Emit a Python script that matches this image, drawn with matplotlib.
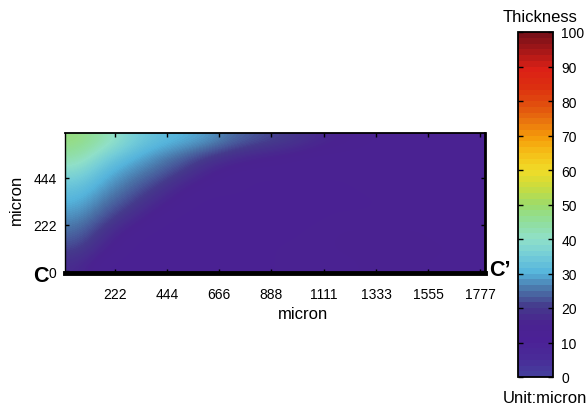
import numpy as np
import matplotlib
matplotlib.use('Agg')
import matplotlib.pyplot as plt
from matplotlib.colors import LinearSegmentedColormap

plt.rcParams['font.family'] = ['Liberation Sans', 'DejaVu Sans']

# thickness, top row first
thickness = np.array([
    [48, 43, 36, 32, 30, 28, 24, 22, 20, 17, 15, 14, 13, 13, 13, 13],
    [44, 36, 31, 27, 24, 20, 17, 15, 14, 13, 13, 13, 13, 13, 13, 13],
    [38, 31, 27, 24, 20, 15, 13, 13, 13, 13, 13, 13, 13, 13, 13, 13],
    [33, 28, 24, 20, 15, 13, 13, 12, 12, 12, 12, 13, 13, 13, 13, 13],
    [30, 25, 21, 16, 13, 12, 12, 12, 12, 12, 12, 12, 13, 13, 13, 13],
    [27, 22, 17, 13, 12, 12, 12, 12, 12, 12, 13, 13, 13, 13, 13, 13],
    [24, 18, 13, 12, 12, 12, 12, 12, 12, 13, 14, 14, 14, 14, 13, 13],
    [21, 15, 12, 12, 12, 12, 12, 12, 13, 13, 14, 14, 14, 14, 14, 13],
    [17, 12, 12, 12, 12, 12, 12, 12, 13, 13, 13, 14, 14, 14, 13, 13],
])

x_ticks = [222, 444, 666, 888, 1111, 1333, 1555, 1777]
y_ticks = [0, 222, 444]
bar_ticks = [0, 10, 20, 30, 40, 50, 60, 70, 80, 90, 100]

bar_colors = ['#453d9c', '#4a2a98', '#4b2196', '#4a2390', '#453a8c', '#4a74a8', '#55b4dc',
              '#74cdd8', '#90e0c8', '#90de9c', '#9cdb6a', '#c9dc3e', '#f0dc28', '#f5c018',
              '#f59a0a', '#e8700e', '#e04a0e', '#dc2e10', '#dc2016', '#a81818', '#7a1018']
cmap = LinearSegmentedColormap.from_list('thick', bar_colors, N=256)
cmap_steps = LinearSegmentedColormap.from_list('thick_steps', bar_colors, N=60)

fig = plt.figure(figsize=(5.87, 4.10), dpi=100)
W, H = 587.0, 410.0

ax = fig.add_axes([65 / W, 1 - 274 / H, 420 / W, 140 / H])
im = ax.imshow(thickness, cmap=cmap, vmin=0, vmax=100, aspect='auto',
               interpolation='bicubic', extent=[10, 1797, -8, 657])
ax.set_xticks(x_ticks)
ax.set_yticks(y_ticks)
ax.tick_params(direction='in', length=3, width=1, labelsize=10, top=True, right=True, pad=6)
ax.tick_params(axis='x', pad=10)
ax.spines['left'].set_linewidth(1)
ax.spines['top'].set_linewidth(1.3)
ax.spines['right'].set_linewidth(2)
ax.spines['bottom'].set_linewidth(3.5)

fig.text(303 / W, 1 - 315 / H, 'micron', fontsize=12, ha='center', va='center')
fig.text(16 / W, 1 - 200 / H, 'micron', fontsize=12, rotation=90, ha='center', va='center')
fig.text(33 / W, 1 - 276 / H, 'C', fontsize=15.5, fontweight='bold', ha='left', va='center')
fig.text(489 / W, 1 - 271 / H, "C\u2019", fontsize=15.5, fontweight='bold', ha='left', va='center')

cax = fig.add_axes([518 / W, 1 - 378 / H, 35 / W, 345 / H])
sm = plt.cm.ScalarMappable(norm=im.norm, cmap=cmap_steps)
cb = fig.colorbar(sm, cax=cax)
cb.set_ticks(bar_ticks)
cax.tick_params(direction='in', length=3.5, width=1, labelsize=10, left=True, right=True, pad=6)
cb.outline.set_linewidth(1.3)

fig.text(540 / W, 1 - 17 / H, 'Thickness', fontsize=12, ha='center', va='center')
fig.text(545 / W, 1 - 399 / H, 'Unit:micron', fontsize=12, ha='center', va='center')

fig.savefig('out.png', dpi=100)
